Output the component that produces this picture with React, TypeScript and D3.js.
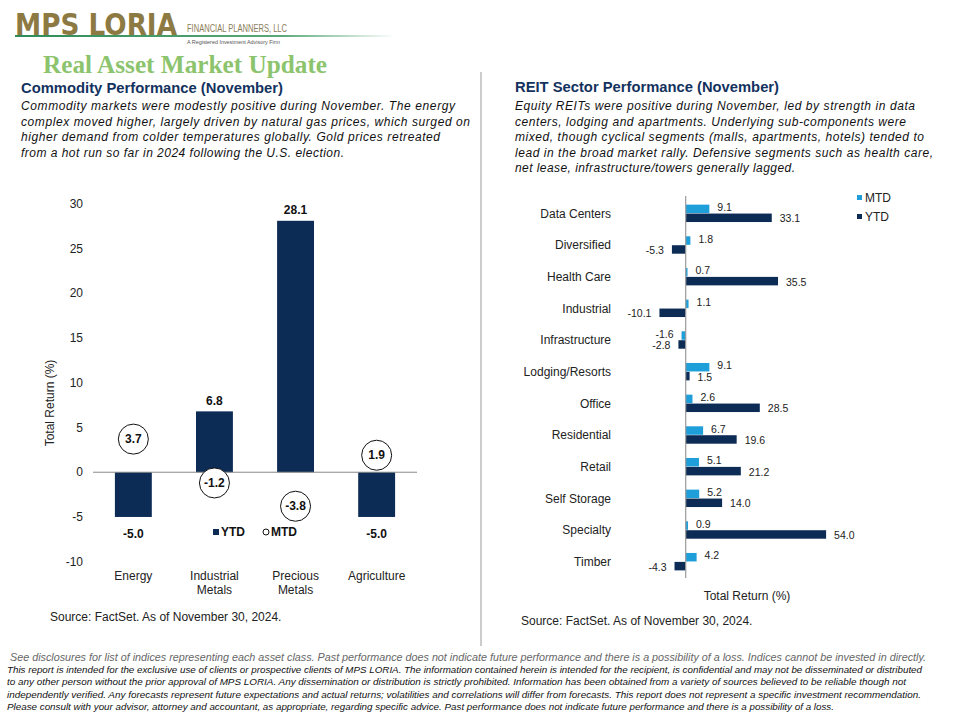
import React from "react";
import * as d3 from "d3";

const commodityCategories = ["Energy", "Industrial\nMetals", "Precious\nMetals", "Agriculture"];
const commodityYTD = [-5.0, 6.8, 28.1, -5.0];
const commodityMTD = [3.7, -1.2, -3.8, 1.9];
const commodityTicks = [30, 25, 20, 15, 10, 5, 0, -5, -10];

const reitCategories = [
  "Data Centers", "Diversified", "Health Care", "Industrial", "Infrastructure",
  "Lodging/Resorts", "Office", "Residential", "Retail", "Self Storage", "Specialty", "Timber",
];
const reitMTD = [9.1, 1.8, 0.7, 1.1, -1.6, 9.1, 2.6, 6.7, 5.1, 5.2, 0.9, 4.2];
const reitYTD = [33.1, -5.3, 35.5, -10.1, -2.8, 1.5, 28.5, 19.6, 21.2, 14.0, 54.0, -4.3];

const leftParagraph = [
  "Commodity  markets were  modestly positive during November.  The energy",
  "complex moved higher, largely driven by natural gas prices, which  surged on",
  "higher demand  from colder temperatures  globally. Gold prices retreated",
  "from a hot run  so far in 2024 following  the U.S. election.",
];
const rightParagraph = [
  "Equity REITs were  positive during  November,  led by strength  in data",
  "centers, lodging and apartments. Underlying  sub-components were",
  "mixed,  though  cyclical segments  (malls, apartments, hotels)  tended to",
  "lead in the broad market rally.  Defensive  segments such as health care,",
  "net lease, infrastructure/towers  generally  lagged.",
];
const footerLines = [
  "See disclosures for list of indices representing each asset class. Past performance does not indicate future performance and there is a possibility of a loss. Indices cannot be invested in directly.",
  "This report is intended for the exclusive use of clients or prospective clients of MPS LORIA. The information contained herein is intended for the recipient, is confidential and may not be disseminated or distributed",
  "to any other person without the prior approval of MPS LORIA. Any dissemination or distribution is strictly prohibited. Information has been obtained from a variety of sources believed to be reliable though not",
  "independently verified. Any forecasts represent future expectations and actual returns; volatilities and correlations will differ from forecasts. This report does not represent a specific investment recommendation.",
  "Please consult with your advisor, attorney and accountant, as appropriate, regarding specific advice. Past performance does not indicate future performance and there is a possibility of a loss.",
];

const NAVY = "#0c2b55";
const LIGHT = "#1e9fd9";
const SANS = "'Liberation Sans', Arial, sans-serif";
const HEAD = "#13325e";

export default function App() {
  // Left chart scales
  const yL = d3.scaleLinear().domain([-10, 30]).range([561.7, 203.8]);
  const xL = d3.scaleBand().domain(commodityCategories).range([93, 417]).paddingInner(0.545).paddingOuter(0.27);
  // Right chart scales
  const yR = d3.scaleBand().domain(reitCategories).range([197.5, 577.5]);
  const inner = d3.scaleBand().domain(["MTD", "YTD"]).range([yR.bandwidth() / 2 - 8.7, yR.bandwidth() / 2 + 8.7]).paddingInner(0.05);
  const xR = d3.scaleLinear().domain([-20, 60]).range([633.7, 841.7]);

  const leftParaW = [434, 449, 419, 323];
  const rightParaW = [400, 391, 409, 418, 280];
  const footerX = [10, 7, 7, 7, 7];
  const footerEnd = [926, 922, 906, 921, 834];
  const footerY = [661, 673, 685, 698, 710];

  return (
    <svg width={960} height={720} style={{ position: "absolute", left: 0, top: 0, background: "#fff" }} fontFamily={SANS}>
      <rect x={0} y={0} width={960} height={720} fill="#fff" />
      {/* Logo */}
      <defs>
        <linearGradient id="gl" x1="0" x2="1" y1="0" y2="0">
          <stop offset="0" stopColor="#2e8b57" />
          <stop offset="0.7" stopColor="#5aa878" />
          <stop offset="1" stopColor="#ffffff" />
        </linearGradient>
      </defs>
      <rect x={15} y={35} width={380} height={2} fill="url(#gl)" />
      <g transform="translate(15,35) scale(1,1.25)">
        <text x={0} y={0} fontSize={24} fontWeight="bold" fill="#8d7a43" textLength={162} lengthAdjust="spacingAndGlyphs" fontFamily="'DejaVu Sans', sans-serif">MPS LORIA</text>
      </g>
      <text x={187} y={32} fontSize={10} fill="#8a7d58" textLength={100} lengthAdjust="spacingAndGlyphs">FINANCIAL PLANNERS, LLC</text>
      <text x={187} y={44} fontSize={6} fill="#555" textLength={93} lengthAdjust="spacingAndGlyphs">A Registered Investment Advisory Firm</text>
      {/* Title */}
      <text x={43} y={73} fontSize={25} fontWeight="bold" fill="#8cc46e" fontFamily="'Liberation Serif', 'Times New Roman', serif" textLength={284} lengthAdjust="spacingAndGlyphs">Real Asset Market Update</text>

      {/* Left header */}
      <text x={21} y={93} fontSize={14} fontWeight="bold" fill={HEAD} textLength={262} lengthAdjust="spacingAndGlyphs">Commodity  Performance (November)</text>
      {leftParagraph.map((l, i) => (
        <text key={i} x={21} y={110 + i * 15.6} fontSize={12} fontStyle="italic" fill="#111" textLength={leftParaW[i]} lengthAdjust="spacing">{l}</text>
      ))}
      {/* Right header */}
      <text x={515} y={92} fontSize={14} fontWeight="bold" fill={HEAD} textLength={264} lengthAdjust="spacingAndGlyphs">REIT Sector Performance (November)</text>
      {rightParagraph.map((l, i) => (
        <text key={i} x={515} y={110 + i * 15.6} fontSize={12} fontStyle="italic" fill="#111" textLength={rightParaW[i]} lengthAdjust="spacing">{l}</text>
      ))}

      {/* divider */}
      <line x1={481} x2={481} y1={72} y2={646} stroke="#999" strokeWidth={1} />

      {/* Left chart */}
      {commodityTicks.map((t) => (
        <text key={t} x={83} y={yL(t)} dy="0.35em" textAnchor="end" fontSize={12} fill="#222">{t}</text>
      ))}
      <text transform={`translate(54,403) rotate(-90)`} textAnchor="middle" fontSize={12} fill="#222">Total Return (%)</text>
      {commodityCategories.map((c, i) => {
        const v = commodityYTD[i];
        const x = xL(c)!;
        const w = xL.bandwidth();
        const y0 = yL(0);
        const y1 = yL(v);
        return (
          <g key={c}>
            <rect x={x} y={Math.min(y0, y1)} width={w} height={Math.abs(y1 - y0)} fill={NAVY} />
            <text x={x + w / 2} y={v >= 0 ? y1 - 11 : y1 + 17} dy="0.35em" textAnchor="middle" fontSize={12} fontWeight="bold" fill="#111">{v.toFixed(1)}</text>
          </g>
        );
      })}
      <line x1={93} x2={417} y1={yL(0)} y2={yL(0)} stroke="#888" strokeWidth={1} />
      {commodityCategories.map((c, i) => {
        const v = commodityMTD[i];
        const cx = xL(c)! + xL.bandwidth() / 2;
        return (
          <g key={c + "m"}>
            <circle cx={cx} cy={yL(v)} r={15} fill="#fff" stroke="#111" strokeWidth={1} />
            <text x={cx} y={yL(v)} dy="0.35em" textAnchor="middle" fontSize={12} fontWeight="bold" fill="#111">{v.toFixed(1)}</text>
          </g>
        );
      })}
      {commodityCategories.map((c) => {
        const cx = xL(c)! + xL.bandwidth() / 2;
        const lines = c.split("\n");
        return (
          <text key={c + "l"} x={cx} y={580} textAnchor="middle" fontSize={12} fill="#222">
            {lines.map((ln, j) => (
              <tspan key={j} x={cx} dy={j === 0 ? 0 : 13.5}>{ln}</tspan>
            ))}
          </text>
        );
      })}
      {/* Left legend */}
      <rect x={213} y={529} width={6} height={6} fill={NAVY} />
      <text x={221} y={532} dy="0.35em" fontSize={12} fontWeight="bold" fill="#111">YTD</text>
      <circle cx={266} cy={532} r={3} fill="#fff" stroke="#111" strokeWidth={1} />
      <text x={271} y={532} dy="0.35em" fontSize={12} fontWeight="bold" fill="#111">MTD</text>
      <text x={50} y={621} fontSize={12} fill="#222">Source: FactSet. As of November 30, 2024.</text>

      {/* Right chart */}
      {reitCategories.map((c, i) => {
        const by = yR(c)!;
        const mv = reitMTD[i];
        const yv = reitYTD[i];
        const x0 = xR(0);
        const mY = by + inner("MTD")!;
        const yY = by + inner("YTD")!;
        const h = inner.bandwidth();
        const lbl = (v: number, yy: number, key: string, shift: number) => (
          <text key={key} x={v >= 0 ? xR(v) + 8 : xR(v) - 8} y={yy + h / 2 + shift} dy="0.35em" textAnchor={v >= 0 ? "start" : "end"} fontSize={10.5} fill="#222">{v.toFixed(1)}</text>
        );
        return (
          <g key={c}>
            <text x={611} y={by + yR.bandwidth() / 2} dy="0.35em" textAnchor="end" fontSize={12} fill="#222">{c}</text>
            <rect x={Math.min(x0, xR(mv))} y={mY} width={Math.abs(xR(mv) - x0)} height={h} fill={LIGHT} />
            <rect x={Math.min(x0, xR(yv))} y={yY} width={Math.abs(xR(yv) - x0)} height={h} fill={NAVY} />
            {lbl(mv, mY, "m", -1.5)}
            {lbl(yv, yY, "y", 1)}
          </g>
        );
      })}
      <line x1={xR(0)} x2={xR(0)} y1={196} y2={578} stroke="#999" strokeWidth={1.2} />
      <text x={747} y={596} dy="0.35em" textAnchor="middle" fontSize={12} fill="#222">Total Return (%)</text>
      <text x={521} y={625} fontSize={12} fill="#222">Source: FactSet. As of November 30, 2024.</text>
      {/* Right legend */}
      <rect x={857} y={195} width={5} height={5} fill={LIGHT} />
      <text x={865} y={197.5} dy="0.35em" fontSize={12} fill="#222">MTD</text>
      <rect x={857} y={214} width={5} height={5} fill={NAVY} />
      <text x={865} y={216.5} dy="0.35em" fontSize={12} fill="#222">YTD</text>

      {/* Footer */}
      {footerLines.map((l, i) => (
        <text key={i} x={footerX[i]} y={footerY[i]} fontSize={i === 0 ? 10 : 9} fontStyle="italic" fill={i === 0 ? "#666" : "#111"} textLength={footerEnd[i] - footerX[i]} lengthAdjust="spacingAndGlyphs">{l}</text>
      ))}
    </svg>
  );
}
